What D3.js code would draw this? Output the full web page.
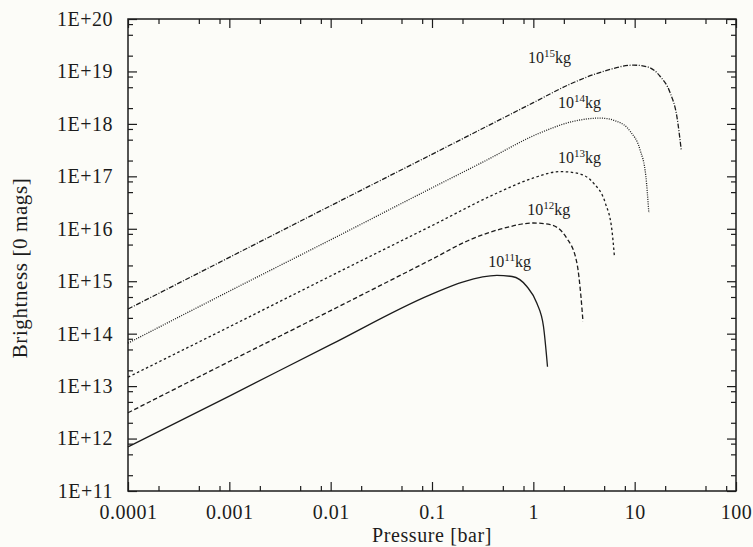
<!DOCTYPE html>
<html>
<head>
<meta charset="utf-8">
<script src="https://cdn.jsdelivr.net/npm/d3@7/dist/d3.min.js"></script>
<style>
body { margin: 0; background-color: #fcfcf8; }
svg text { font-family: "Liberation Serif", "Times New Roman", serif; fill: #1c1c1c; }
.line { fill: none; stroke: #1c1c1c; stroke-width: 1.3; }
</style>
</head>
<body>
<div id="chart"></div>
<script>

// axis ticks
var xTickValues = [1e-4, 1e-3, 1e-2, 0.1, 1, 10, 100]
var xTickLabels = ["0.0001", "0.001", "0.01", "0.1", "1", "10", "100"]
var yTickValues = [1e11, 1e12, 1e13, 1e14, 1e15, 1e16, 1e17, 1e18, 1e19, 1e20]
var yTickLabels = ["1E+11", "1E+12", "1E+13", "1E+14", "1E+15", "1E+16", "1E+17", "1E+18", "1E+19", "1E+20"]
var minorSteps = [2, 5, 8]

// one curve per impactor mass (10^n kg)
var massExponents = ["11", "12", "13", "14", "15"]

var pressure11   = [1e-4, 1e-3, 1e-2, 0.0957, 0.204, 0.437, 0.617, 0.863, 1.084, 1.259, 1.38]
var brightness11 = [6.92e11, 6.46e12, 6.17e13, 5.5e14, 9.77e14, 1.29e15, 1.23e15, 7.94e14, 3.8e14, 1.38e14, 2.34e13]

var pressure12   = [1e-4, 1e-3, 1e-2, 0.1, 0.238, 0.507, 1.0, 1.47, 2.14, 2.69, 2.95, 3.09]
var brightness12 = [3.1e12, 2.95e13, 2.75e14, 2.63e15, 6.2e15, 1.02e16, 1.29e16, 1.2e16, 6.6e15, 2.24e15, 5.1e14, 1.7e14]

var pressure13   = [1e-4, 1e-3, 1e-2, 0.1, 0.47, 1.0, 1.84, 2.69, 3.93, 5.13, 5.96, 6.31]
var brightness13 = [1.48e13, 1.35e14, 1.26e15, 1.15e16, 5.1e16, 9.3e16, 1.23e17, 1.15e17, 7.4e16, 3.1e16, 9.5e15, 3.0e15]

var pressure14   = [1e-4, 1e-3, 1e-2, 0.1, 0.316, 1.17, 2.49, 4.57, 6.67, 9.04, 11.3, 12.9, 13.8]
var brightness14 = [6.6e13, 6.46e14, 6.17e15, 6.03e16, 1.86e17, 6.76e17, 1.12e18, 1.29e18, 1.12e18, 7.2e17, 3.2e17, 1.0e17, 2.0e16]

var pressure15   = [1e-4, 1e-3, 1e-2, 0.1, 1.0, 2.31, 4.9, 9.77, 13.2, 17.8, 22.4, 26.1, 28.8]
var brightness15 = [2.95e14, 2.85e15, 2.75e16, 2.63e17, 2.54e18, 5.75e18, 1.0e19, 1.32e19, 1.23e19, 8.1e18, 3.9e18, 1.38e18, 3.2e17]

// where each mass label sits (pressure, brightness at text baseline start)
var labelPressure   = [0.36, 0.87, 1.75, 1.75, 0.885]
var labelBrightness = [1.85e15, 1.8e16, 1.8e17, 2.0e18, 1.45e19]

var width = 753
var height = 547
var margin = {left: 128, right: 17, top: 19, bottom: 56}
var dashes = ["none", "4.5 2.5", "2.5 2.5", "1 1.3", "5 1.6 1 1.6"]

var svg = d3.select("#chart")
            .append("svg")
            .attr("width", width)
            .attr("height", height)

var x = d3.scaleLog().domain([1e-4, 100]).range([margin.left, width - margin.right])
var y = d3.scaleLog().domain([1e11, 1e20]).range([height - margin.bottom, margin.top])

function minorOf(majors) {
  var out = []
  majors.slice(0, -1).forEach(function(m) {
    minorSteps.forEach(function(s) { out.push(m * s) })
  })
  return out
}
var xMinor = minorOf(xTickValues)
var yMinor = minorOf(yTickValues)

var bottomY = height - margin.bottom
var rightX = width - margin.right

function drawAxis(axis, transform) {
  var g = svg.append("g").attr("transform", transform).call(axis)
  g.select(".domain").remove()
  g.selectAll(".tick line").attr("stroke", "#1c1c1c").attr("stroke-width", 1.2)
  return g
}

// bottom axis with labels
var xAxis = drawAxis(d3.axisBottom(x).tickValues(xTickValues)
                       .tickFormat((d, i) => xTickLabels[i]).tickSize(-9).tickPadding(14),
                     "translate(0," + bottomY + ")")
xAxis.selectAll("text").attr("font-size", "20px").attr("letter-spacing", "0.5px").attr("fill", "#1c1c1c")
drawAxis(d3.axisBottom(x).tickValues(xMinor).tickFormat("").tickSize(-5), "translate(0," + bottomY + ")")
drawAxis(d3.axisTop(x).tickValues(xTickValues).tickFormat("").tickSize(-9), "translate(0," + margin.top + ")")
drawAxis(d3.axisTop(x).tickValues(xMinor).tickFormat("").tickSize(-5), "translate(0," + margin.top + ")")

// left axis with labels
var yAxis = drawAxis(d3.axisLeft(y).tickValues(yTickValues)
                       .tickFormat((d, i) => yTickLabels[i]).tickSize(-9).tickPadding(15),
                     "translate(" + margin.left + ",0)")
yAxis.selectAll("text").attr("font-size", "20px").attr("letter-spacing", "0.5px").attr("fill", "#1c1c1c")
drawAxis(d3.axisLeft(y).tickValues(yMinor).tickFormat("").tickSize(-5), "translate(" + margin.left + ",0)")
drawAxis(d3.axisRight(y).tickValues(yTickValues).tickFormat("").tickSize(-9), "translate(" + rightX + ",0)")
drawAxis(d3.axisRight(y).tickValues(yMinor).tickFormat("").tickSize(-5), "translate(" + rightX + ",0)")

// frame
svg.append("rect")
   .attr("x", margin.left)
   .attr("y", margin.top)
   .attr("width", rightX - margin.left)
   .attr("height", bottomY - margin.top)
   .attr("fill", "none")
   .attr("stroke", "#1c1c1c")
   .attr("stroke-width", 1.5)

// curves
var pressures = [pressure11, pressure12, pressure13, pressure14, pressure15]
var brightnesses = [brightness11, brightness12, brightness13, brightness14, brightness15]

var line = d3.line()
             .x((d) => x(d[0]))
             .y((d) => y(d[1]))
             .curve(d3.curveMonotoneX)

massExponents.forEach(function(m, k) {
  var pts = d3.zip(pressures[k], brightnesses[k])
  svg.append("path")
     .attr("class", "line")
     .attr("d", line(pts))
     .attr("stroke-dasharray", dashes[k])
})

// mass labels 10^n kg
massExponents.forEach(function(m, k) {
  var t = svg.append("text")
             .attr("x", x(labelPressure[k]))
             .attr("y", y(labelBrightness[k]))
             .attr("font-size", "16px")
  t.append("tspan").text("10")
  t.append("tspan").attr("dy", -6).attr("font-size", "11px").text(m)
  t.append("tspan").attr("dy", 6).text("kg")
})

// axis titles
svg.append("text")
   .attr("x", (margin.left + rightX) / 2)
   .attr("y", 542)
   .attr("text-anchor", "middle")
   .attr("font-size", "20px")
   .attr("letter-spacing", "0.6px")
   .text("Pressure [bar]")

svg.append("text")
   .attr("transform", "translate(27,268) rotate(-90)")
   .attr("text-anchor", "middle")
   .attr("font-size", "21px")
   .attr("letter-spacing", "0.6px")
   .text("Brightness [0 mags]")

</script>
</body>
</html>
